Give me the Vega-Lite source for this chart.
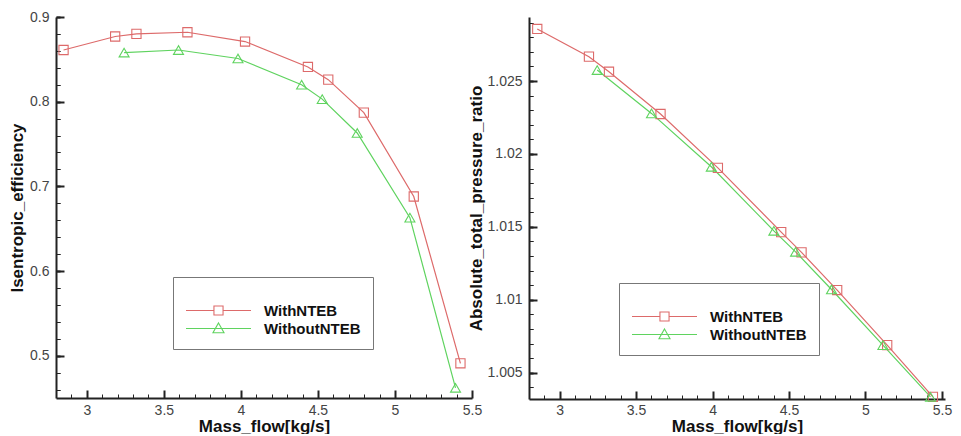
{
  "$schema": "https://vega.github.io/schema/vega-lite/v6.json",
  "padding": {"left": 8, "top": 10, "right": 5, "bottom": 0},
  "spacing": 57,
  "bounds": "flush",
  "datasets": {
    "eff": [
      {"series": "WithNTEB", "flow": 2.849, "eff": 0.861},
      {"series": "WithNTEB", "flow": 3.184, "eff": 0.877},
      {"series": "WithNTEB", "flow": 3.322, "eff": 0.880},
      {"series": "WithNTEB", "flow": 3.653, "eff": 0.882},
      {"series": "WithNTEB", "flow": 4.027, "eff": 0.871},
      {"series": "WithNTEB", "flow": 4.435, "eff": 0.841},
      {"series": "WithNTEB", "flow": 4.567, "eff": 0.826},
      {"series": "WithNTEB", "flow": 4.798, "eff": 0.787},
      {"series": "WithNTEB", "flow": 5.122, "eff": 0.688},
      {"series": "WithNTEB", "flow": 5.425, "eff": 0.491},
      {"series": "WithoutNTEB", "flow": 3.242, "eff": 0.858},
      {"series": "WithoutNTEB", "flow": 3.595, "eff": 0.861},
      {"series": "WithoutNTEB", "flow": 3.981, "eff": 0.851},
      {"series": "WithoutNTEB", "flow": 4.394, "eff": 0.820},
      {"series": "WithoutNTEB", "flow": 4.528, "eff": 0.803},
      {"series": "WithoutNTEB", "flow": 4.755, "eff": 0.763},
      {"series": "WithoutNTEB", "flow": 5.097, "eff": 0.663},
      {"series": "WithoutNTEB", "flow": 5.393, "eff": 0.462}
    ],
    "pr": [
      {"series": "WithNTEB", "flow": 2.854, "ratio": 1.02857},
      {"series": "WithNTEB", "flow": 3.192, "ratio": 1.02667},
      {"series": "WithNTEB", "flow": 3.323, "ratio": 1.02564},
      {"series": "WithNTEB", "flow": 3.660, "ratio": 1.02274},
      {"series": "WithNTEB", "flow": 4.035, "ratio": 1.01905},
      {"series": "WithNTEB", "flow": 4.449, "ratio": 1.01464},
      {"series": "WithNTEB", "flow": 4.582, "ratio": 1.01325},
      {"series": "WithNTEB", "flow": 4.815, "ratio": 1.01067},
      {"series": "WithNTEB", "flow": 5.142, "ratio": 1.00689},
      {"series": "WithNTEB", "flow": 5.441, "ratio": 1.00335},
      {"series": "WithoutNTEB", "flow": 3.246, "ratio": 1.02575},
      {"series": "WithoutNTEB", "flow": 3.601, "ratio": 1.02278},
      {"series": "WithoutNTEB", "flow": 3.992, "ratio": 1.01912},
      {"series": "WithoutNTEB", "flow": 4.401, "ratio": 1.01473},
      {"series": "WithoutNTEB", "flow": 4.543, "ratio": 1.01329},
      {"series": "WithoutNTEB", "flow": 4.778, "ratio": 1.01071},
      {"series": "WithoutNTEB", "flow": 5.114, "ratio": 1.00689},
      {"series": "WithoutNTEB", "flow": 5.425, "ratio": 1.00335}
    ]
  },
  "resolve": {"scale": {"color": "independent"}, "legend": {"color": "independent"}},
  "hconcat": [
    {
      "width": 416,
      "height": 381,
      "data": {"name": "eff"},
      "encoding": {
        "x": {"field": "flow", "type": "quantitative", "scale": {"domain": [2.8, 5.5], "nice": false, "zero": false},
          "axis": {"orient": "bottom", "values": [2.9, 3.0, 3.1, 3.2, 3.3, 3.4, 3.5, 3.6, 3.7, 3.8, 3.9, 4.0, 4.1, 4.2, 4.3, 4.4, 4.5, 4.6, 4.7, 4.8, 4.9, 5.0, 5.1, 5.2, 5.3, 5.4, 5.5], "format": ".1~f",
            "labelExpr": "abs(datum.value * 2 - round(datum.value * 2)) < 0.001 ? datum.label : ''",
            "ticks": false, "grid": true, "gridColor": "#222",
            "gridDash": {"condition": {"test": "abs(datum.value * 2 - round(datum.value * 2)) < 0.001", "value": [0, 373, 8, 2000]}, "value": [0, 377, 4, 2000]},
            "gridWidth": {"condition": {"test": "abs(datum.value * 2 - round(datum.value * 2)) < 0.001", "value": 2}, "value": 1},
            "labelPadding": 5, "labelFlush": false, "labelOverlap": false, "title": "Mass_flow[kg/s]", "titlePadding": 1}},
        "y": {"field": "eff", "type": "quantitative", "scale": {"domain": [0.45, 0.9], "nice": false, "zero": false},
          "axis": {"orient": "left", "values": [0.46, 0.48, 0.5, 0.52, 0.54, 0.56, 0.58, 0.6, 0.62, 0.64, 0.66, 0.68, 0.7, 0.72, 0.74, 0.76, 0.78, 0.8, 0.82, 0.84, 0.86, 0.88, 0.9], "format": ".1f",
            "labelExpr": "abs(datum.value * 10 - round(datum.value * 10)) < 0.001 ? datum.label : ''",
            "ticks": true, "tickSize": -4, "tickColor": "#222",
            "tickWidth": {"condition": {"test": "abs(datum.value * 10 - round(datum.value * 10)) < 0.001", "value": 2}, "value": 1},
            "grid": true, "gridColor": "#222",
            "gridDash": {"condition": {"test": "abs(datum.value * 10 - round(datum.value * 10)) < 0.001", "value": [8, 2000]}, "value": [4, 2000]},
            "gridWidth": {"condition": {"test": "abs(datum.value * 10 - round(datum.value * 10)) < 0.001", "value": 2}, "value": 1},
            "labelPadding": 11, "labelOverlap": false, "title": "Isentropic_efficiency", "titlePadding": 3}}
      },
      "layer": [
        {
          "mark": {"type": "line", "strokeWidth": 1.2},
          "encoding": {
            "color": {"field": "series", "type": "nominal", "scale": {"domain": ["WithNTEB", "WithoutNTEB"], "range": ["#dd6a6a", "#5fd35f"]},
              "legend": {"orient": "none", "legendX": 117, "legendY": 260, "title": " ", "titleFontSize": 8, "titlePadding": 5, "padding": 12, "strokeColor": "#777",
                "symbolSize": 4225, "symbolStrokeWidth": 1.1, "clipHeight": 17, "labelFont": "Liberation Sans", "labelFontSize": 15, "labelFontWeight": "bold", "labelColor": "#111", "labelOffset": 12, "rowPadding": 1,
                "encode": {"symbols": {"update": {"shape": {"signal": "datum.value == 'WithNTEB' ? 'M-1,0H-0.14M0.14,0H1M-0.14,-0.14H0.14V0.14H-0.14Z' : 'M-1,0H1M0,-0.17L0.17,0.13H-0.17Z'"}, "fill": {"value": "transparent"}}}}}}
          }
        },
        {
          "transform": [{"filter": "datum.series == 'WithNTEB'"}],
          "mark": {"type": "point", "shape": "square", "filled": false, "size": 85, "strokeWidth": 1.1, "opacity": 1},
          "encoding": {"color": {"field": "series", "type": "nominal", "legend": null}}
        },
        {
          "transform": [{"filter": "datum.series == 'WithoutNTEB'"}],
          "mark": {"type": "point", "shape": "triangle-up", "filled": false, "size": 100, "strokeWidth": 1.1, "opacity": 1},
          "encoding": {"color": {"field": "series", "type": "nominal", "legend": null}}
        }
      ]
    },
    {
      "width": 416,
      "height": 382,
      "data": {"name": "pr"},
      "encoding": {
        "x": {"field": "flow", "type": "quantitative", "scale": {"domain": [2.8, 5.52], "nice": false, "zero": false},
          "axis": {"orient": "bottom", "values": [2.9, 3.0, 3.1, 3.2, 3.3, 3.4, 3.5, 3.6, 3.7, 3.8, 3.9, 4.0, 4.1, 4.2, 4.3, 4.4, 4.5, 4.6, 4.7, 4.8, 4.9, 5.0, 5.1, 5.2, 5.3, 5.4, 5.5], "format": ".1~f",
            "labelExpr": "abs(datum.value * 2 - round(datum.value * 2)) < 0.001 ? datum.label : ''",
            "ticks": false, "grid": true, "gridColor": "#222",
            "gridDash": {"condition": {"test": "abs(datum.value * 2 - round(datum.value * 2)) < 0.001", "value": [0, 374, 8, 2000]}, "value": [0, 378, 4, 2000]},
            "gridWidth": {"condition": {"test": "abs(datum.value * 2 - round(datum.value * 2)) < 0.001", "value": 2}, "value": 1},
            "labelPadding": 4, "labelFlush": false, "labelOverlap": false, "title": "Mass_flow[kg/s]", "titlePadding": 1}},
        "y": {"field": "ratio", "type": "quantitative", "scale": {"domain": [1.0032, 1.02939], "nice": false, "zero": false},
          "axis": {"orient": "left", "values": [1.004, 1.005, 1.006, 1.007, 1.008, 1.009, 1.01, 1.011, 1.012, 1.013, 1.014, 1.015, 1.016, 1.017, 1.018, 1.019, 1.02, 1.021, 1.022, 1.023, 1.024, 1.025, 1.026, 1.027, 1.028, 1.029], "format": ".3~f",
            "labelExpr": "abs(datum.value * 200 - round(datum.value * 200)) < 0.01 ? datum.label : ''",
            "ticks": true, "tickSize": -4, "tickColor": "#222",
            "tickWidth": {"condition": {"test": "abs(datum.value * 200 - round(datum.value * 200)) < 0.01", "value": 2}, "value": 1},
            "grid": true, "gridColor": "#222",
            "gridDash": {"condition": {"test": "abs(datum.value * 200 - round(datum.value * 200)) < 0.01", "value": [8, 2000]}, "value": [4, 2000]},
            "gridWidth": {"condition": {"test": "abs(datum.value * 200 - round(datum.value * 200)) < 0.01", "value": 2}, "value": 1},
            "labelPadding": 11, "labelOverlap": false, "title": "Absolute_total_pressure_ratio", "titlePadding": 1}}
      },
      "layer": [
        {
          "mark": {"type": "line", "strokeWidth": 1.2},
          "encoding": {
            "color": {"field": "series", "type": "nominal", "scale": {"domain": ["WithNTEB", "WithoutNTEB"], "range": ["#dd6a6a", "#5fd35f"]},
              "legend": {"orient": "none", "legendX": 90, "legendY": 266, "title": " ", "titleFontSize": 8, "titlePadding": 5, "padding": 12, "strokeColor": "#777",
                "symbolSize": 4225, "symbolStrokeWidth": 1.1, "clipHeight": 17, "labelFont": "Liberation Sans", "labelFontSize": 15, "labelFontWeight": "bold", "labelColor": "#111", "labelOffset": 12, "rowPadding": 1,
                "encode": {"symbols": {"update": {"shape": {"signal": "datum.value == 'WithNTEB' ? 'M-1,0H-0.14M0.14,0H1M-0.14,-0.14H0.14V0.14H-0.14Z' : 'M-1,0H1M0,-0.17L0.17,0.13H-0.17Z'"}, "fill": {"value": "transparent"}}}}}}
          }
        },
        {
          "transform": [{"filter": "datum.series == 'WithNTEB'"}],
          "mark": {"type": "point", "shape": "square", "filled": false, "size": 85, "strokeWidth": 1.1, "opacity": 1},
          "encoding": {"color": {"field": "series", "type": "nominal", "legend": null}}
        },
        {
          "transform": [{"filter": "datum.series == 'WithoutNTEB'"}],
          "mark": {"type": "point", "shape": "triangle-up", "filled": false, "size": 100, "strokeWidth": 1.1, "opacity": 1},
          "encoding": {"color": {"field": "series", "type": "nominal", "legend": null}}
        }
      ]
    }
  ],
  "config": {
    "view": {"stroke": null},
    "font": "Liberation Sans",
    "axis": {"domainColor": "#222", "domainWidth": 2, "labelColor": "#444", "labelFont": "Liberation Sans", "labelFontSize": 14, "titleFont": "Liberation Sans", "titleFontSize": 17, "titleFontWeight": "bold", "titleColor": "#111"}
  }
}
